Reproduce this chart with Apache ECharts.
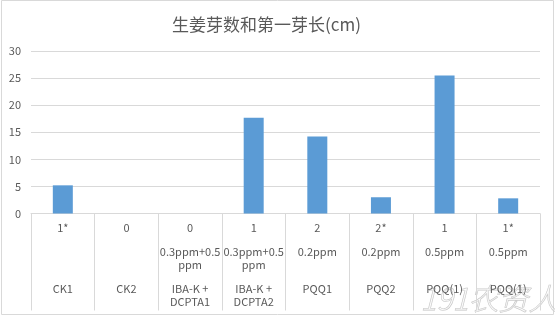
<!DOCTYPE html>
<html>
<head>
<meta charset="utf-8">
<script src="https://cdn.jsdelivr.net/npm/echarts@6/dist/echarts.min.js"></script>
<style>
html,body{margin:0;padding:0;background:#fff;}
#c{width:555px;height:320px;}
</style>
</head>
<body>
<div id="c"></div>
<script>
var title = '生姜芽数和第一芽长(cm)';
var rowOne = ['1*', '0', '0', '1', '2', '2*', '1', '1*'];
var rowTwo = ['', '', '0.3ppm+0.5\nppm', '0.3ppm+0.5\nppm', '0.2ppm', '0.2ppm', '0.5ppm', '0.5ppm'];
var rowThree = ['CK1', 'CK2', 'IBA-K +\nDCPTA1', 'IBA-K +\nDCPTA2', 'PQQ1', 'PQQ2', 'PQQ(1)', 'PQQ(1)'];
var values = [5.2, 0, 0, 17.7, 14.2, 3.0, 25.5, 2.8];
var yTicks = [0, 5, 10, 15, 20, 25, 30];

var categories = rowOne.map(function (r, i) { return 'c' + i; });
function twoLines(s) {
  var parts = s.split('\n');
  while (parts.length < 2) parts.push(' ');
  return parts.map(function (p) { return p === '' ? ' ' : p; });
}
var chart = echarts.init(document.getElementById('c'));
var font = '"Noto Sans CJK SC", "Liberation Sans", sans-serif';
chart.setOption({
  animation: false,
  title: {
    text: title,
    left: 167,
    top: 11,
    textStyle: { fontFamily: font, fontSize: 17, fontWeight: 'normal', color: '#595959' }
  },
  grid: { left: 31, right: 15, top: 51, bottom: 106.5 },
  xAxis: {
    type: 'category',
    data: categories,
    axisLine: { lineStyle: { color: '#d9d9d9' } },
    axisTick: { show: true, length: 97, lineStyle: { color: '#d9d9d9' } },
    axisLabel: {
      interval: 0,
      margin: 8,
      fontFamily: font,
      fontSize: 11,
      color: '#595959',
      lineHeight: 12.3,
      formatter: function (v, i) {
        var lines = [rowOne[i], ' '];
        lines = lines.concat(twoLines(rowTwo[i]));
        lines.push(' ');
        lines = lines.concat(twoLines(rowThree[i]));
        return lines.join('\n');
      }
    }
  },
  yAxis: {
    type: 'value',
    min: yTicks[0],
    max: yTicks[yTicks.length - 1],
    interval: 5,
    axisLine: { show: false },
    axisTick: { show: false },
    splitLine: { lineStyle: { color: '#d9d9d9' } },
    axisLabel: { margin: 10, fontFamily: font, fontSize: 11, color: '#595959' }
  },
  series: [{
    type: 'bar',
    data: values,
    barWidth: 20,
    itemStyle: { color: '#5b9bd5' }
  }],
  graphic: [
    {
      type: 'rect',
      shape: { x: 1.5, y: 0.5, width: 552, height: 314 },
      style: { fill: 'none', stroke: '#d9d9d9', lineWidth: 1 },
      silent: true
    },
    {
      type: 'text',
      left: 420,
      top: 283,
      style: {
        text: '191农资人',
        font: 'italic 300 30px "Noto Sans CJK SC", sans-serif',
        fill: 'rgba(255,255,255,0.4)',
        stroke: '#c4c4c4',
        lineWidth: 0.8
      },
      silent: true
    }
  ]
});
</script>
</body>
</html>
